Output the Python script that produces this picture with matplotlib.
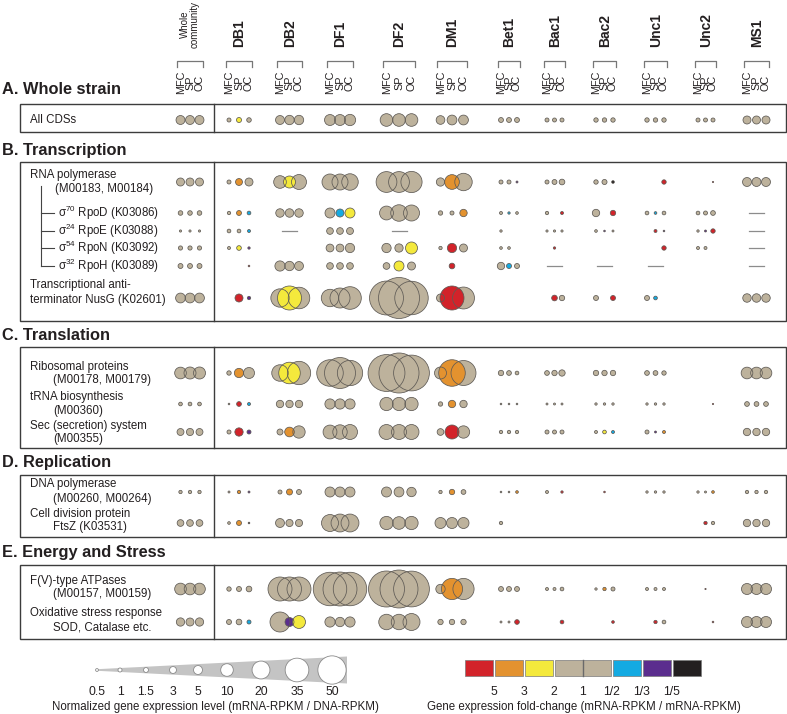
import numpy as np
import matplotlib
matplotlib.use("Agg")
import matplotlib.pyplot as plt
from matplotlib.patches import Rectangle, Polygon

plt.rcParams['font.family'] = ['Liberation Sans', 'DejaVu Sans']
plt.rcParams['mathtext.fontset'] = 'custom'
plt.rcParams['mathtext.rm'] = 'Liberation Sans'
plt.rcParams['mathtext.it'] = 'Liberation Sans:italic'
plt.rcParams['mathtext.bf'] = 'Liberation Sans:bold'
plt.rcParams['mathtext.default'] = 'regular'

N = np.nan

# ---------------- data ----------------
strains = ["Whole\ncommunity", "DB1", "DB2", "DF1", "DF2", "DM1",
           "Bet1", "Bac1", "Bac2", "Unc1", "Unc2", "MS1"]
conditions = ["MFC", "SP", "OC"]

section_titles = ["A. Whole strain", "B. Transcription", "C. Translation",
                  "D. Replication", "E. Energy and Stress"]

row_labels = [
    ["All CDSs"],
    ["RNA polymerase", "(M00183, M00184)"],
    ["σ$^{70}$ RpoD (K03086)"],
    ["σ$^{24}$ RpoE (K03088)"],
    ["σ$^{54}$ RpoN (K03092)"],
    ["σ$^{32}$ RpoH (K03089)"],
    ["Transcriptional anti-", "terminator NusG (K02601)"],
    ["Ribosomal proteins", "(M00178, M00179)"],
    ["tRNA biosynthesis", "(M00360)"],
    ["Sec (secretion) system", "(M00355)"],
    ["DNA polymerase", "(M00260, M00264)"],
    ["Cell division protein", "FtsZ (K03531)"],
    ["F(V)-type ATPases", "(M00157, M00159)"],
    ["Oxidative stress response", "SOD, Catalase etc."],
]

# normalized expression (mRNA-RPKM / DNA-RPKM), per strain [MFC, SP, OC]
expr_all_cds = [[5, 5, 5], [1, 1.6, 1.3], [5, 5.5, 5.5], [7.5, 7.5, 8], [10, 10, 10], [4.7, 6, 6],
                [1.5, 1.5, 1.5], [1, 1, 1], [1.2, 1.2, 1.2], [1.2, 1.2, 1.2], [1, 1, 1], [4, 4, 4]]
expr_rna_pol = [[4, 4, 4], [1, 3, 4], [10, 9, 14], [16, 16, 17], [27, 27, 28], [4.3, 13.5, 19],
                [1, 1, 0.25], [1, 1.5, 2], [1.2, 1.6, 0.45], [N, N, 1.2], [N, N, 0.1], [5, 5, 5]]
expr_rpod = [[1.3, 1.3, 1.3], [0.7, 1.5, 0.85], [4.5, 4.5, 4.5], [6.25, 4, 6.25], [12, 17, 16], [1.2, 1, 3.4],
             [0.56, 0.35, 0.45], [0.7, N, 0.56], [3.4, N, 1.8], [0.85, 0.45, 0.85], [0.85, 1, 1.4], [N, N, N]]
expr_rpoe = [[0.3, 0.3, 0.3], [0.85, 0.85, 0.56], [N, N, N], [2.8, 2.8, 3], [N, N, N], [N, N, N],
             [0.35, N, N], [0.3, 0.3, 0.3], [0.45, 0.17, 0.25], [N, 0.56, 0.17], [0.35, 0.25, 1.2], [N, N, N]]
expr_rpon = [[1.1, 1.1, 1.1], [0.56, 1.36, 0.35], [N, N, N], [3.8, 3.8, 5.4], [5.4, 4.3, 9], [0.7, 5.4, 4],
             [0.45, 0.45, N], [N, 0.35, N], [N, N, N], [N, N, 1.2], [0.56, 0.56, N], [N, N, N]]
expr_rpoh = [[1.5, 1.5, 1.5], [N, N, 0.17], [6.5, 5.5, 5], [2.8, 2.8, 2.8], [2.8, 6.25, 4], [N, 2, N],
             [3.4, 1.56, 1.56], [N, N, N], [N, N, N], [N, N, N], [N, N, N], [N, N, N]]
expr_nusg = [[6, 6, 6], [N, 4, 0.7], [21, 36, 29], [19, 25, 32], [72, 105, 70], [4, 36, 30],
             [N, N, N], [N, 2, 1.8], [1.56, N, 1.56], [1.56, 0.85, N], [N, N, N], [4.5, 4.5, 4.5]]
expr_ribosomal = [[8.5, 9, 9], [1.2, 5.4, 7.6], [17, 29, 34], [44, 60, 40], [85, 100, 80], [9, 44, 39],
                  [1.8, 1.4, 0.85], [1.4, 1.8, 2.5], [1.8, 1.8, 1.8], [1.4, 1.4, 1.2], [N, N, N], [8.5, 8.5, 8.5]]
expr_trna = [[0.85, 0.85, 0.85], [0.17, 1.4, 0.56], [3.4, 3.4, 3.4], [6.5, 6.5, 6.5], [11, 11, 11], [1.2, 3.4, 3.4],
             [0.17, 0.17, 0.17], [0.25, 0.25, 0.25], [0.35, 0.35, 0.35], [0.35, 0.35, 0.35], [N, N, 0.1], [1.4, 1.4, 1.4]]
expr_sec = [[3, 3.2, 3], [1, 4.3, 1], [2.25, 5.8, 9.5], [12, 13, 14], [14, 14, 14], [2.8, 12.25, 9.5],
            [0.7, 0.7, 0.7], [1, 1, 1], [0.56, 0.85, 0.56], [1, 0.25, 0.56], [N, N, N], [3.4, 3.4, 3.4]]
expr_dna_pol = [[0.7, 0.7, 0.7], [0.25, 0.7, 0.25], [1, 2.25, 1.56], [6.25, 6.25, 6.25], [6.25, 6, 5.5], [0.7, 1.8, 1.4],
                [0.17, 0.17, 0.45], [0.56, N, 0.35], [N, 0.17, N], [0.35, 0.35, 0.35], [0.35, 0.25, 0.45], [0.7, 0.7, 0.7]]
expr_ftsz = [[2.8, 2.8, 2.8], [0.45, 1.56, 0.17], [5, 3.2, 3.2], [18, 20, 20], [11, 10, 11], [7.6, 7.6, 7.6],
             [0.7, N, N], [N, N, N], [N, N, N], [N, N, N], [N, 0.7, 0.7], [3.4, 3.4, 3.4]]
expr_atpase = [[8.5, 8.5, 8.5], [1.2, 1.56, 2], [36, 36, 36], [70, 72, 70], [81, 90, 80], [5.5, 28, 28],
               [1.5, 1.5, 1.5], [0.56, 0.56, 0.85], [0.35, 0.7, 1], [0.56, 0.56, 0.56], [N, 0.1, N], [7.6, 7.6, 7.6]]
expr_oxidative = [[4.3, 4, 4.3], [1.56, 2, 1], [25, 5, 10.5], [6.5, 5.5, 6.5], [15, 15, 18], [1.8, 1.8, 1.8],
                  [0.25, 0.25, 1.36], [N, N, 0.85], [N, N, 0.45], [N, 0.7, 0.85], [N, N, 0.17], [7.6, 7.6, 7.6]]

# fold-change class per strain (MFC SP OC): r=5, o=3, y=2, n=1, b=1/2, p=1/3, k=1/5
fold_all_cds = "nnn nyn nnn nnn nnn nnn nnn nnn nnn nnn nnn nnn"
fold_rna_pol = "nnn non nyn nnn nnn non nnp nnn nnk nnr nnr nnn"
fold_rpod = "nnn nob nnn nby nnn nno nbn nnr nnr nbn nnn nnn"
fold_rpoe = "nnn nnb nnn nnn nnn nnn nnn nnn npn nrp npr nnn"
fold_rpon = "nnn nyp nnn nnn nny nrn nnn nrn nnn nnr nnn nnn"
fold_rpoh = "nnn nnr nnn nnn nyn nrn nbn nnn nnn nnn nnn nnn"
fold_nusg = "nnn nrp nyn nnn nnn nrn nnn nrn nnr nbn nnn nnn"
fold_ribosomal = "nnn non nyn nnn nnn non nnn nnn nnn nnn nnn nnn"
fold_trna = "nnn nrb nnn nnn nnn non nnn nnn nnn nnn nnr nnn"
fold_sec = "nnn nrp non nnn nnn nrn nnn nnn nyb npo nnn nnn"
fold_dna_pol = "nnn nop non nnn nnn non nno nnr nrn nnn nno nnn"
fold_ftsz = "nnn nok nnn nnn nnn nnn nnn nnn nnn nnn nrn nnn"
fold_atpase = "nnn nnn nnn nnn nnn non nnn nnn non nnn nrn nnn"
fold_oxidative = "nnn nnb npy nnn nnn nnn nnr nnr nnr nrn nnr nnn"

# genes absent from a genome (drawn as a dash): (row index, strain)
absent_cells = [(2, "MS1"), (3, "DB2"), (3, "DF2"), (3, "MS1"), (4, "MS1"),
                (5, "Bac1"), (5, "Bac2"), (5, "Unc1"), (5, "MS1")]

fold_codes = ["r", "o", "y", "n", "b", "p", "k"]
fold_values = [5, 3, 2, 1, 1 / 2, 1 / 3, 1 / 5]
fold_tick_labels = ["5", "3", "2", "1", "1/2", "1/3", "1/5"]
fold_colors = ["#D2232A", "#E3922F", "#F4E93C", "#BDB29C", "#14AAE2", "#5B2D8E", "#231F20"]

size_legend_values = [0.5, 1, 1.5, 3, 5, 10, 20, 35, 50]

all_expr = [expr_all_cds, expr_rna_pol, expr_rpod, expr_rpoe, expr_rpon, expr_rpoh, expr_nusg,
            expr_ribosomal, expr_trna, expr_sec, expr_dna_pol, expr_ftsz, expr_atpase, expr_oxidative]
all_fold = [fold_all_cds, fold_rna_pol, fold_rpod, fold_rpoe, fold_rpon, fold_rpoh, fold_nusg,
            fold_ribosomal, fold_trna, fold_sec, fold_dna_pol, fold_ftsz, fold_atpase, fold_oxidative]

# ---------------- layout (pixel coordinates) ----------------
W, H, DPI = 787, 714, 100
strain_x = [190, 239, 289.5, 340, 399, 452, 509, 554.5, 604.5, 655.5, 705.5, 756.5]
strain_dx = [9.5, 10, 9.5, 10, 12.5, 11.5, 8, 7.5, 8.5, 8.5, 7.5, 9.5]
row_y = [120, 182, 213, 231, 248, 266, 298, 373, 404, 432, 492, 523, 589, 622]
label_y = [(120,), (175, 189), (213,), (231,), (248,), (266,), (285, 300), (367, 380),
           (397, 411), (426, 439), (484, 499), (514, 527), (581, 594), (613, 627)]
label_x2 = [53, 55, 53, 53, 53, 53, 30, 53, 53, 53, 53, 53, 53, 53]
title_y = [90, 150, 335, 463, 553]
box_y = [(104, 132), (162, 321), (347, 448), (475, 537), (565, 639)]
box_x0, box_xdiv, box_x1 = 20, 214, 786
size_legend_x = [97, 120, 146, 173, 198, 227, 261, 297, 332]

fig = plt.figure(figsize=(W / DPI, H / DPI), dpi=DPI)
ax = fig.add_axes([0, 0, 1, 1])
ax.set_xlim(0, W)
ax.set_ylim(H, 0)
ax.axis("off")


def marker_area(v):
    # circle radius = 2*sqrt(v) px  -> scatter area in pt^2
    d_pt = 4 * np.sqrt(np.asarray(v, dtype=float)) * 72 / DPI
    return d_pt ** 2


EDGE = "#5e5a55"
TXT = "#231F20"

# ---------------- header ----------------
COND_FS = 7.8
em_px = COND_FS * DPI / 72
for i, name in enumerate(strains):
    cx, dx = strain_x[i], strain_dx[i]
    if i == 0:
        ax.text(cx, 48, name, rotation=90, ha="center", va="bottom", fontsize=7.0,
                color=TXT, linespacing=1.0)
    else:
        ax.text(cx + 0.5, 47, name, rotation=90, ha="center", va="bottom", fontsize=10,
                fontweight="bold", color=TXT)
    hw = dx + 3.2
    ax.plot([cx - hw, cx - hw, cx + hw, cx + hw], [67, 61, 61, 67], color="#777777", lw=0.9)
    # the three condition labels as one stacked, rotated text
    ls = max(0.4, (dx - 0.21 * em_px) / (0.74 * em_px))
    ax.text(cx, 82.5, "\n".join(conditions), rotation=90, ha="center", va="center",
            multialignment="center", fontsize=COND_FS, linespacing=ls, color=TXT)

# ---------------- section boxes and titles ----------------
for t, ty, (y0, y1) in zip(section_titles, title_y, box_y):
    ax.text(2, ty, t, fontsize=11.8, fontweight="bold", va="center", ha="left", color=TXT)
    ax.add_patch(Rectangle((box_x0, y0), box_x1 - box_x0, y1 - y0, fill=False,
                           ec="#3c3c3c", lw=1.0, zorder=1))
    ax.plot([box_xdiv, box_xdiv], [y0, y1], color="#3c3c3c", lw=1.0, zorder=1)

# ---------------- row labels ----------------
for r, lines in enumerate(row_labels):
    if 2 <= r <= 5:
        ax.text(58, label_y[r][0], lines[0], fontsize=8.3, va="center", ha="left", color=TXT)
    else:
        ax.text(30, label_y[r][0], lines[0], fontsize=8.3, va="center", ha="left", color=TXT)
        if len(lines) > 1:
            ax.text(label_x2[r], label_y[r][1], lines[1], fontsize=8.3, va="center",
                    ha="left", color=TXT)
# tree connecting sigma factors to RNA polymerase
ax.plot([41, 41], [186, row_y[5]], color="#444444", lw=0.8)
for r in range(2, 6):
    ax.plot([41, 54], [row_y[r], row_y[r]], color="#444444", lw=0.8)

# ---------------- bubbles ----------------
code_to_color = dict(zip(fold_codes, fold_colors))
xs_n, ys_n, ss_n = [], [], []
xs_c, ys_c, ss_c, cs_c = [], [], [], []
for r, (expr, fold) in enumerate(zip(all_expr, all_fold)):
    groups = fold.split()
    for i in range(len(strains)):
        for k in range(3):
            v = expr[i][k]
            if np.isnan(v):
                continue
            x = strain_x[i] + (k - 1) * strain_dx[i]
            code = groups[i][k]
            if code == "n":
                xs_n.append(x); ys_n.append(row_y[r]); ss_n.append(v)
            else:
                xs_c.append(x); ys_c.append(row_y[r]); ss_c.append(v)
                cs_c.append(code_to_color[code])

ax.scatter(xs_n, ys_n, s=marker_area(ss_n), c=code_to_color["n"], linewidths=0, zorder=3)
ax.scatter(xs_c, ys_c, s=marker_area(ss_c), c=cs_c, linewidths=0, zorder=4)
ax.scatter(xs_n + xs_c, ys_n + ys_c, s=marker_area(ss_n + ss_c), facecolors="none",
           edgecolors=EDGE, linewidths=0.55, zorder=5)

for r, sname in absent_cells:
    i = strains.index(sname)
    ax.plot([strain_x[i] - 7.5, strain_x[i] + 7.5], [row_y[r], row_y[r]],
            color="#8c8c8c", lw=0.9, zorder=3)

# ---------------- size legend ----------------
ly = 670
ax.add_patch(Polygon([(size_legend_x[0], ly - 0.8), (347, ly - 13.5), (347, ly + 13.5),
                      (size_legend_x[0], ly + 0.8)], closed=True, fc="#C4C4C4", ec="none", zorder=2))
ax.scatter(size_legend_x, [ly] * len(size_legend_x), s=marker_area(size_legend_values),
           facecolors="white", edgecolors="#8a8a8a", linewidths=0.6, zorder=3)
for x, v in zip(size_legend_x, size_legend_values):
    ax.text(x, 692, f"{v:g}", ha="center", va="center", fontsize=8.8, color=TXT)
ax.text(215, 707, "Normalized gene expression level (mRNA-RPKM / DNA-RPKM)",
        ha="center", va="center", fontsize=8.3, color=TXT)

# ---------------- fold-change legend ----------------
bx, bw, gap = 465, 28, 2
by0, by1 = 660, 676
edges = []
x = bx
for code, col in zip(fold_codes, fold_colors):
    w = 2 * bw if code == "n" else bw
    ax.add_patch(Rectangle((x, by0), w, by1 - by0, fc=col, ec="#7a7a7a", lw=0.5, zorder=2))
    if code == "n":
        ax.plot([x + w / 2, x + w / 2], [by0, by1], color="#6a6a6a", lw=1.0, zorder=3)
    edges.append((x, x + w))
    x += w + gap
# ticks at class boundaries (middle for 1)
for j, lab in enumerate(fold_tick_labels):
    if fold_codes[j] == "n":
        tx = (edges[j][0] + edges[j][1]) / 2
    elif j < fold_codes.index("n"):
        tx = (edges[j][1] + edges[j + 1][0]) / 2
    else:
        tx = (edges[j][0] + edges[j - 1][1]) / 2
    ax.text(tx, 692, lab, ha="center", va="center", fontsize=8.8, color=TXT)
ax.text(584, 707, "Gene expression fold-change (mRNA-RPKM / mRNA-RPKM)",
        ha="center", va="center", fontsize=8.3, color=TXT)

fig.savefig("out.png", dpi=DPI)
